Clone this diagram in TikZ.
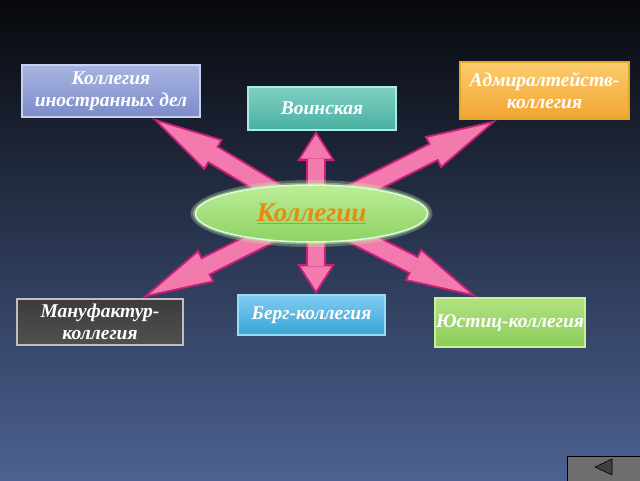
\documentclass[tikz,border=0pt]{standalone}
\usepackage{fontspec}
\setmainfont{Liberation Serif}
\usetikzlibrary{arrows.meta,shapes.geometric}
\definecolor{bgtop}{HTML}{07080C}
\definecolor{bgmid}{HTML}{283350}
\definecolor{bgbot}{HTML}{4C6292}
\definecolor{arrowpink}{HTML}{F27AAC}
\definecolor{arrowborder}{HTML}{C8207A}
\definecolor{orangetxt}{HTML}{E88A10}
\definecolor{btnfill}{HTML}{6E6E6E}
\definecolor{btntri}{HTML}{404040}
\definecolor{glowgreen}{HTML}{C8F0A8}
\begin{document}
\begin{tikzpicture}[x=1pt,y=-1pt,
  box/.style={rectangle, inner sep=0pt, align=center, text=white,
    font=\fontsize{19.5}{22}\selectfont\bfseries\itshape, line width=1.5pt},
  arrB/.style={draw=arrowborder, line width=20pt,
    -{Triangle[width=36pt,length=72pt,line width=0pt]}},
  arrF/.style={draw=arrowpink, line width=16pt, shorten >=8pt,
    -{Triangle[width=31pt,length=62pt,line width=0pt]}},
  arrBv/.style={draw=arrowborder, line width=20pt,
    -{Triangle[width=38pt,length=30pt,line width=0pt]}},
  arrFv/.style={draw=arrowpink, line width=16pt, shorten >=3.7pt,
    -{Triangle[width=31pt,length=24pt,line width=0pt]}}]
\shade[top color=bgtop, middle color=bgmid, bottom color=bgbot] (0,0) rectangle (640,480);
\useasboundingbox (0,0) rectangle (640,480);

\coordinate (pcol) at (311.5,213.5);
\coordinate (pcv) at (316,213.5);
\coordinate (tul) at (152,118);
\coordinate (tup) at (316,131);
\coordinate (tur) at (497,120);
\coordinate (tdl) at (142,298);
\coordinate (tdn) at (316,294);
\coordinate (tdr) at (477,297);

% arrows: borders then fills
\foreach \t in {tul,tur,tdl,tdr} \draw[arrB] (pcol) -- (\t);
\foreach \t in {tup,tdn} \draw[arrBv] (pcv) -- (\t);
\foreach \t in {tul,tur,tdl,tdr} \draw[arrF] (pcol) -- (\t);
\foreach \t in {tup,tdn} \draw[arrFv] (pcv) -- (\t);

% central ellipse
\node[ellipse, minimum width=242pt, minimum height=67pt, fill=glowgreen, opacity=0.3] (colglow) at (pcol) {};
\node[ellipse, minimum width=237pt, minimum height=62pt, fill=glowgreen, opacity=0.45] (colglow2) at (pcol) {};
\node[ellipse, minimum width=232pt, minimum height=57pt, inner sep=0pt,
  draw=white!85!green, line width=1.5pt,
  top color={rgb,255:red,190;green,236;blue,150}, bottom color={rgb,255:red,140;green,212;blue,100},
  text=orangetxt, font=\fontsize{27}{30}\selectfont\bfseries\itshape] (col) at (pcol) {\underline{Коллегии}};

\node[box, minimum width=178pt, minimum height=52pt, draw={rgb,255:red,200;green,208;blue,240},
  top color={rgb,255:red,168;green,180;blue,226}, bottom color={rgb,255:red,124;green,140;blue,200}]
  (ino) at (111,91) {Коллегия\\иностранных дел};
\node[box, minimum width=148pt, minimum height=43pt, draw={rgb,255:red,170;green,235;blue,225},
  top color={rgb,255:red,128;green,208;blue,196}, bottom color={rgb,255:red,72;green,176;blue,160}]
  (voin) at (322,108.5) {Воинская};
\node[box, minimum width=169pt, minimum height=57pt, draw={rgb,255:red,224;green,170;blue,40},
  top color={rgb,255:red,252;green,204;blue,110}, bottom color={rgb,255:red,242;green,164;blue,50}]
  (adm) at (544.5,90.5) {Адмиралтейств-\\коллегия};
\node[box, minimum width=166pt, minimum height=46pt, draw={rgb,255:red,190;green,190;blue,190},
  top color={rgb,255:red,60;green,60;blue,60}, middle color={rgb,255:red,140;green,140;blue,140},
  bottom color={rgb,255:red,80;green,80;blue,80}]
  (man) at (100,322) {Мануфактур-\\коллегия};
\node[box, minimum width=147pt, minimum height=40pt, draw={rgb,255:red,150;green,220;blue,248},
  top color={rgb,255:red,128;green,204;blue,240}, bottom color={rgb,255:red,56;green,164;blue,214}]
  (berg) at (311.5,315) {Берг-коллегия};
\node[box, minimum width=150pt, minimum height=49pt, draw={rgb,255:red,200;green,240;blue,150},
  top color={rgb,255:red,176;green,226;blue,128}, bottom color={rgb,255:red,140;green,204;blue,90}]
  (just) at (510,322.5) {Юстиц-коллегия};

% back button
\node[rectangle, draw=black, line width=1pt, fill=btnfill,
  minimum width=73pt, minimum height=25pt, inner sep=0pt] (back) at (603.5,468.5) {};
\filldraw[fill=btntri, draw=black, line width=0.6pt] (595,467) -- (612,459) -- (612,475) -- cycle;
\end{tikzpicture}
\end{document}
